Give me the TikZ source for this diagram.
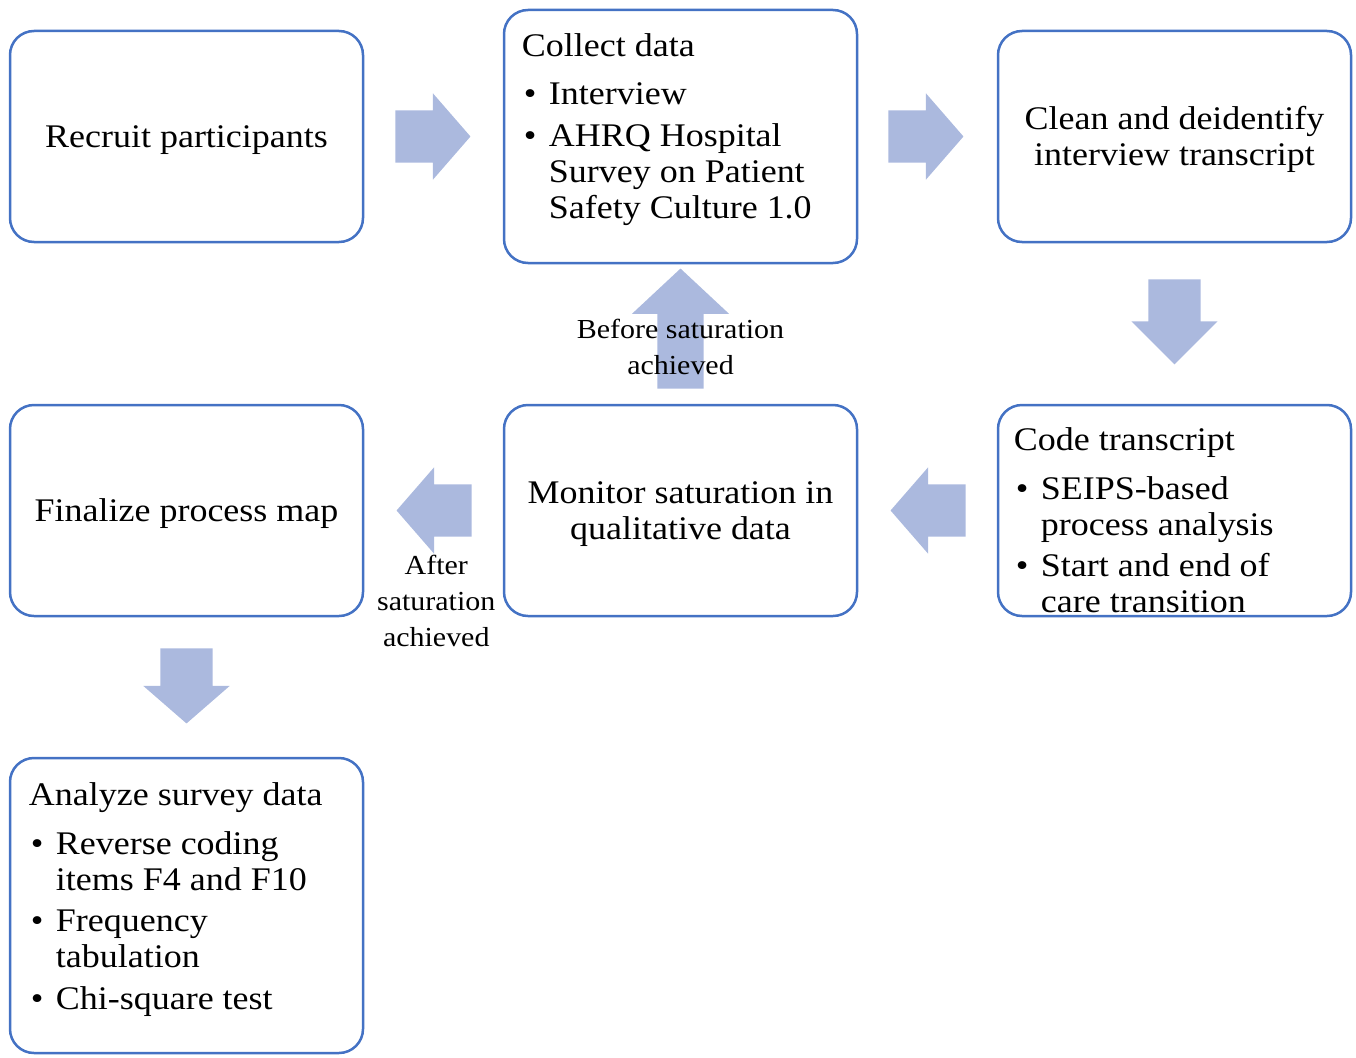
\documentclass[tikz,border=0pt]{standalone}
\usepackage{fontspec}
\setmainfont{Liberation Serif}[FakeStretch=1.09]
\usepackage{xcolor}
\usetikzlibrary{shapes.arrows, calc}

\definecolor{boxline}{RGB}{68,114,196}
\definecolor{arrowfill}{RGB}{171,185,222}

\newcommand{\itm}{\makebox[27pt][l]{\hspace{2pt}\textbullet}}
\newcommand{\ind}{\hspace*{27pt}}
\newcommand{\boxstrut}{\rule{0pt}{28.5pt}}

\tikzset{
  stepbox/.style={draw=boxline, line width=2.5pt, rounded corners=24pt,
    fill=white, minimum width=353pt, minimum height=211pt, inner sep=0pt,
    align=center, font=\fontsize{33}{36}\selectfont},
  listtext/.style={anchor=north west, inner sep=0pt, align=left,
    font=\fontsize{33}{36}\selectfont},
  blockarrow/.style={single arrow, fill=arrowfill, inner xsep=0pt,
    inner ysep=26pt, minimum height=75pt, minimum width=86pt,
    single arrow head extend=17pt, single arrow tip angle=98, anchor=tail},
  vert/.style={inner xsep=26pt, inner ysep=0pt},
  tall/.style={minimum height=85pt, single arrow tip angle=90},
  sidenote/.style={align=center, inner sep=0pt,
    font=\fontsize{27.5}{36}\selectfont}
}

\begin{document}
\begin{tikzpicture}[x=1pt, y=-1pt]
\useasboundingbox (0,0) rectangle (1356,1057);

% steps
\node[stepbox] (recruit) at (186.5,136.5) {\boxstrut Recruit participants};
\node[stepbox, minimum height=253pt] (collect) at (680.5,136.5) {};
\node[stepbox] (clean) at (1174.5,136.5) {\boxstrut Clean and deidentify\\interview transcript};
\node[stepbox] (code) at (1174.5,510.5) {};
\node[stepbox] (monitor) at (680.5,510.5) {\boxstrut Monitor saturation in\\qualitative data};
\node[stepbox] (finalize) at (186.5,510.5) {\boxstrut Finalize process map};
\node[stepbox, minimum height=295pt] (analyze) at (186.5,905.5) {};

% lists inside the boxes
\node[listtext] (collecttxt) at ([shift={(19,24.5)}]collect.north west)
  {Collect data\\[12pt]
   \itm Interview\\[6pt]
   \itm AHRQ Hospital\\
   \ind Survey on Patient\\
   \ind Safety Culture 1.0};
\node[listtext] (codetxt) at ([shift={(17,23.5)}]code.north west)
  {Code transcript\\[13pt]
   \itm SEIPS-based\\
   \ind process analysis\\[5pt]
   \itm Start and end of\\
   \ind care transition};
\node[listtext] (analyzetxt) at ([shift={(20,25.5)}]analyze.north west)
  {Analyze survey data\\[13pt]
   \itm Reverse coding\\
   \ind items F4 and F10\\[5pt]
   \itm Frequency\\
   \ind tabulation\\[6pt]
   \itm Chi-square test};

% block arrows
\node[blockarrow] (a1) at ($(recruit.east)+(31,0)$) {};
\node[blockarrow] (a2) at ($(collect.east)+(30,0)$) {};
\node[blockarrow, vert, tall, shape border rotate=270] (a3) at ($(clean.south)+(0,36)$) {};
\node[blockarrow, shape border rotate=180] (a4) at ($(code.west)+(-31,0)$) {};
\node[blockarrow, shape border rotate=180] (a5) at ($(monitor.west)+(-31,0)$) {};
\node[blockarrow, vert, inner xsep=23pt, minimum height=120pt, minimum width=97pt,
  single arrow head extend=25.5pt, single arrow tip angle=94,
  shape border rotate=90] (a6) at ($(monitor.north)+(0,-15)$) {};
\node[blockarrow, vert, shape border rotate=270] (a7) at ($(finalize.south)+(0,31)$) {};

% labels on the loop
\node[sidenote] (before) at ($(monitor.north)+(0,-56.5)$) {Before saturation\\achieved};
\node[sidenote] (after) at ($(finalize.east)+(72,90)$) {After\\saturation\\achieved};
\end{tikzpicture}
\end{document}
